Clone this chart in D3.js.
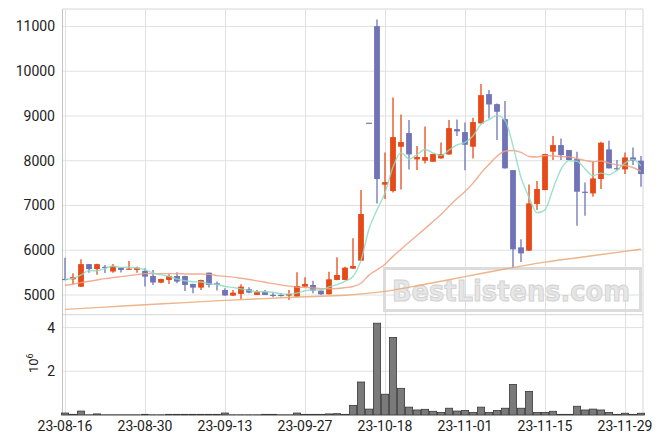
<!DOCTYPE html>
<html>
<head>
<meta charset="utf-8">
<script src="https://cdn.jsdelivr.net/npm/d3@7"></script>
<style>
  html, body { margin: 0; padding: 0; background: #fff; }
  svg { display: block; }
  text { font-family: Roboto, "Liberation Sans", sans-serif; }
</style>
</head>
<body>
<svg id="chart" width="663" height="444"></svg>
<script>
// ---- data ----
const dates = [
  "23-08-16","23-08-17","23-08-18","23-08-21","23-08-22","23-08-23","23-08-24","23-08-25","23-08-28","23-08-29",
  "23-08-30","23-08-31","23-09-01","23-09-04","23-09-05","23-09-06","23-09-07","23-09-08","23-09-11","23-09-12",
  "23-09-13","23-09-14","23-09-15","23-09-18","23-09-19","23-09-20","23-09-21","23-09-22","23-09-25","23-09-26",
  "23-09-27","23-10-04","23-10-05","23-10-06","23-10-10","23-10-11","23-10-12","23-10-13","23-10-16","23-10-17",
  "23-10-18","23-10-19","23-10-20","23-10-23","23-10-24","23-10-25","23-10-26","23-10-27","23-10-30","23-10-31",
  "23-11-01","23-11-02","23-11-03","23-11-06","23-11-07","23-11-08","23-11-09","23-11-10","23-11-13","23-11-14",
  "23-11-15","23-11-16","23-11-17","23-11-20","23-11-21","23-11-22","23-11-23","23-11-24","23-11-27","23-11-28",
  "23-11-29","23-11-30","23-12-01"
];
const openP = [5360,5350,5185,5690,5580,5630,5525,5610,5575,5560,5540,5425,5277,5336,5425,5425,5247,5165,5500,5262,
  5113,4986,5024,5128,5001,5076,5005,5003,4986,4964,5187,5224,5098,5016,5336,5336,5589,5767,8850,11007,
  7464,7322,8312,8618,8030,8000,7977,8052,8141,8707,8640,8312,8833,9488,9265,8930,7791,6065,5990,7032,
  7345,8201,8350,8238,8037,7308,7270,7591,8253,7835,7806,8074,8000];
const highP = [5830,5485,5800,5690,5700,5670,5690,5615,5760,5630,5600,5560,5365,5462,5507,5430,5250,5340,5500,5300,
  5150,5113,5240,5172,5110,5113,5060,5040,5113,5507,5395,5321,5100,5522,5842,5634,6266,7345,8850,11156,
  8186,9414,9034,8908,8327,8766,8155,8409,8908,8923,8856,8960,9712,9578,9280,9332,7795,6243,7471,7546,
  8155,8551,8499,8240,8201,7516,7978,8424,8447,8015,8186,8298,8104];
const lowP = [5330,5245,5180,5500,5450,5490,5500,5505,5570,5500,5190,5225,5262,5247,5262,5090,5040,5110,5170,5100,
  4985,4980,4905,5038,4998,4998,4950,4965,4890,4960,5180,5040,5000,5010,5330,5330,5580,5760,8850,7047,
  7144,7290,7360,7806,7791,7940,7970,8045,8135,8551,7790,8052,8830,8945,8461,7825,5620,5740,5985,6898,
  7340,8015,8015,8010,6548,6772,7196,7367,7825,7777,7702,7903,7419];
const closeP = [5340,5400,5690,5580,5690,5610,5650,5560,5590,5610,5410,5280,5358,5425,5300,5225,5165,5336,5225,5230,
  4990,5053,5187,5053,5076,5001,4998,4998,5024,5202,5247,5098,5016,5351,5448,5611,5648,6809,8850,7590,
  7523,8528,8417,8141,8082,8082,8149,8149,8729,8655,8357,8863,9466,9257,9094,7829,6020,5930,7047,7367,
  8149,8350,8126,8015,7308,7290,7605,8402,7829,7825,8074,8000,7702];
const volumeM = [0.09,0.03,0.18,0.01,0.05,0.01,0.01,0.01,0.01,0.01,0.03,0.01,0.01,0.03,0.03,0.03,0.03,0.03,0.03,0.03,
  0.09,0.01,0.01,0.01,0.01,0.03,0.03,0.01,0.01,0.09,0.03,0.03,0.03,0.05,0.06,0.03,0.44,1.51,0.27,4.20,
  0.95,3.55,1.22,0.36,0.23,0.26,0.17,0.12,0.31,0.18,0.21,0.12,0.36,0.12,0.21,0.31,1.40,0.31,1.08,0.12,
  0.12,0.17,0.03,0.03,0.40,0.23,0.27,0.23,0.12,0.03,0.08,0.03,0.08];
// moving-average values before enough history is visible
const ma5Head = [5350,5373,5448,5544];
const ma20Head = [5217,5239,5276,5306,5336,5366,5388,5410,5433,5455,5477,5477,5477,5477,5477,5470,5470,5470,5462];
// long moving average, read at sampled bars
const maLongIdx = [0,5,10,15,20,25,30,35,40,45,50,55,60,65,70,72];
const maLongVal = [4680,4730,4783,4830,4880,4920,4962,4995,5080,5240,5410,5580,5735,5855,5975,6025];
const priceTicks = [5000,6000,7000,8000,9000,10000,11000];
const volTicks = [2,4];
const xTickIdx = [0,10,20,30,40,50,60,70];

// ---- layout ----
const L = 62.5, R = 643, T = 9, MID = 314.7, B = 415;
const svg = d3.select("#chart");
const x = d3.scaleLinear().domain([-0.3125, 72.25]).range([L, R]);
const y = d3.scaleLinear().domain([4560, 11390]).range([MID, T]);
const yv = d3.scaleLinear().domain([0, 4.59]).range([B, MID]);

const n = dates.length;
const bars = d3.range(n).map(i => ({i, o: openP[i], h: highP[i], l: lowP[i], c: closeP[i], v: volumeM[i]}));
const ma = (k, head) => d3.range(n).map(i => i >= k - 1 ? d3.mean(closeP.slice(i - k + 1, i + 1)) : head[i]);
const ma5 = ma(5, ma5Head), ma20 = ma(20, ma20Head);

const grid = "#e0e0e0";
// gridlines
const g = svg.append("g");
g.selectAll(".vg").data(xTickIdx).join("line")
  .attr("x1", d => Math.round(x(d)) + 0.5).attr("x2", d => Math.round(x(d)) + 0.5)
  .attr("y1", T).attr("y2", B).attr("stroke", grid);
g.selectAll(".hg").data(priceTicks).join("line")
  .attr("x1", L).attr("x2", R).attr("y1", d => y(d)).attr("y2", d => y(d)).attr("stroke", grid);
g.selectAll(".hv").data(volTicks).join("line")
  .attr("x1", L).attr("x2", R).attr("y1", d => yv(d)).attr("y2", d => yv(d)).attr("stroke", grid);
// frame
[[L, T, R, T], [L, MID, R, MID], [L, B, R, B], [R, T, R, B]].forEach(p =>
  g.append("line").attr("x1", p[0]).attr("y1", p[1]).attr("x2", p[2]).attr("y2", p[3]).attr("stroke", "#d6d6d6"));
g.append("line").attr("x1", L).attr("x2", L).attr("y1", T).attr("y2", B).attr("stroke", "#c4c4c4");

// watermark
const wm = svg.append("g");
wm.append("rect").attr("x", 384.5).attr("y", 268.5).attr("width", 256).attr("height", 42)
  .attr("fill", "none").attr("stroke", "#dcdcdc").attr("stroke-width", 3);
wm.append("text").attr("x", 392).attr("y", 301).attr("font-size", 29).attr("font-weight", "bold")
  .attr("textLength", 238).attr("lengthAdjust", "spacingAndGlyphs")
  .attr("fill", "#e6e6e6").attr("stroke", "#d2d2d2").attr("stroke-width", 1)
  .style("font-family", "'DejaVu Sans', sans-serif").text("BestListens.com");

// axes labels
const tick = svg.append("g").attr("font-size", 14).attr("fill", "#222");
tick.selectAll(".py").data(priceTicks).join("text")
  .attr("x", 55).attr("y", d => y(d) + 5).attr("text-anchor", "end").text(d => d);
tick.selectAll(".vy").data(volTicks).join("text")
  .attr("x", 55).attr("y", d => yv(d) + 5).attr("text-anchor", "end").text(d => d);
tick.selectAll(".xl").data(xTickIdx).join("text")
  .attr("x", d => x(d)).attr("y", 431).attr("text-anchor", "middle").text(d => dates[d]);
const ex = svg.append("text").attr("transform", "translate(38,373) rotate(-90)")
  .attr("font-size", 13).attr("fill", "#222");
ex.append("tspan").text("10");
ex.append("tspan").attr("dy", -5).attr("font-size", 9).text("6");

// volume bars
svg.append("g").selectAll("rect").data(bars).join("rect")
  .attr("x", d => x(d.i) - 3.6).attr("width", 7.2)
  .attr("y", d => yv(d.v)).attr("height", d => B - yv(d.v))
  .attr("fill", "#7a7a7a").attr("stroke", "#3a3a3a").attr("stroke-width", 0.8);

// candles
const up = "#e64a19", down = "#6e74b6";
const cg = svg.append("g").selectAll("g").data(bars).join("g");
cg.append("line").attr("x1", d => x(d.i)).attr("x2", d => x(d.i))
  .attr("y1", d => y(d.h)).attr("y2", d => y(d.l))
  .attr("stroke", d => d.c > d.o ? up : down).attr("stroke-width", 1.3);
cg.append("rect").attr("x", d => x(d.i) - 2.9).attr("width", 5.8)
  .attr("y", d => y(Math.max(d.o, d.c)))
  .attr("height", d => Math.max(1.2, Math.abs(y(d.o) - y(d.c))))
  .attr("fill", d => d.c > d.o ? up : down);

// moving averages
const line = d3.line().curve(d3.curveMonotoneX);
const drawMA = (pts, color) => svg.append("path").attr("d", line(pts))
  .attr("fill", "none").attr("stroke", color).attr("stroke-width", 1.4).attr("stroke-opacity", 0.85);
drawMA(maLongIdx.map((k, j) => [x(k), y(maLongVal[j])]), "#eaa874");
drawMA(ma20.map((v, i) => [x(i), y(v)]), "#f0a080");
drawMA(ma5.map((v, i) => [x(i), y(v)]), "#8edcbf");
</script>
</body>
</html>
